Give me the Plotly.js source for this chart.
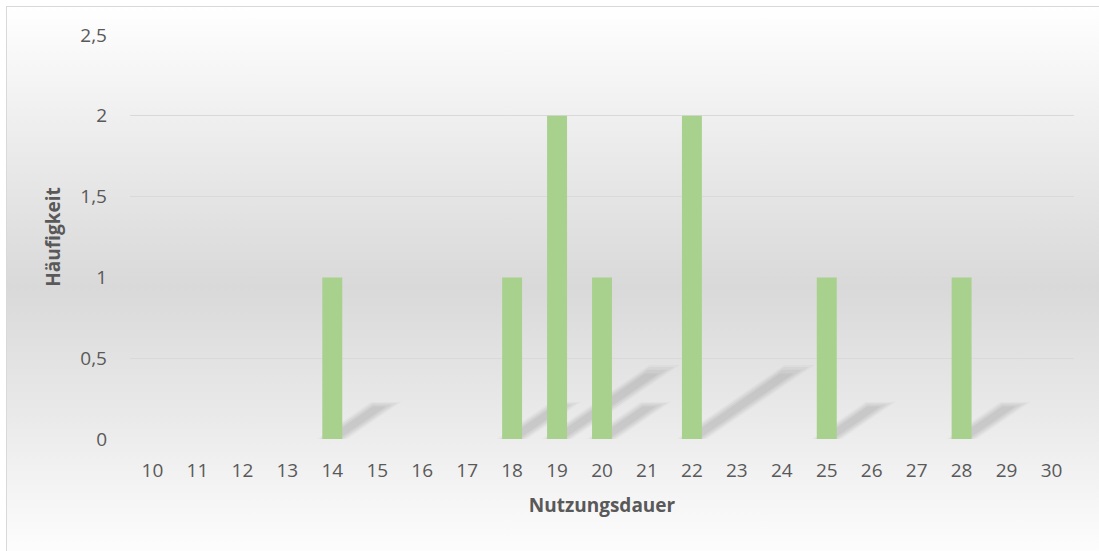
<!DOCTYPE html>
<html>
<head>
<meta charset="utf-8">
<script src="https://cdn.plot.ly/plotly-3.0.1.min.js"></script>
<style>
  html, body { margin: 0; padding: 0; background: #ffffff; }
  #wrap { position: relative; width: 1099px; height: 551px; overflow: hidden; background: #ffffff; }
  #bg { position: absolute; left: 6px; top: 6px; width: 1100px; height: 560px;
        border-top: 1px solid #d9d9d9; border-left: 1px solid #d9d9d9;
        background: linear-gradient(to bottom, #ffffff 0%, #ebebeb 25%, #d9d9d9 50%, #ebebeb 75%, #ffffff 100%); }
  #chart { position: absolute; left: 0; top: 0; width: 1099px; height: 551px; }
</style>
</head>
<body>
<div id="wrap">
  <div id="bg"></div>
  <div id="chart"></div>
</div>
<script>
// Data
const nutzungsdauer = [10, 11, 12, 13, 14, 15, 16, 17, 18, 19, 20, 21, 22, 23, 24, 25, 26, 27, 28, 29, 30];
const haeufigkeit   = [0, 0, 0, 0, 1, 0, 0, 0, 1, 2, 1, 0, 2, 0, 0, 1, 0, 0, 1, 0, 0];
const tickLabels    = nutzungsdauer.map(String);
const yTickVals     = [0, 0.5, 1, 1.5, 2, 2.5];
const yTickText     = ['0', '0,5', '1', '1,5', '2', '2,5'];

const barColor = '#a9d18e';
const halfW = 0.222;

// Soft diagonal shadows derived from bar values
const shapes = [];
const blurLayers = [
  {grow: 0.12, len: 1.00, alpha: 0.025},
  {grow: 0.06, len: 0.97, alpha: 0.035},
  {grow: 0.00, len: 0.93, alpha: 0.04},
  {grow: -0.07, len: 0.88, alpha: 0.045}
];
nutzungsdauer.forEach((c, i) => {
  const v = haeufigkeit[i];
  if (!v) return;
  blurLayers.forEach(b => {
    const dx = 1.2 * v * b.len, dy = 0.23 * v * b.len;
    const xl = c - halfW - b.grow, xr = c + halfW + b.grow;
    shapes.push({
      type: 'path', xref: 'x', yref: 'y', layer: 'between',
      path: `M ${xl} 0 L ${xr} 0 L ${xr + dx} ${dy} L ${xl + dx} ${dy} Z`,
      fillcolor: `rgba(0,0,0,${b.alpha})`, line: {width: 0}
    });
  });
});

const trace = {
  type: 'bar',
  x: nutzungsdauer,
  y: haeufigkeit,
  marker: {color: barColor, line: {width: 0}},
  width: 2 * halfW,
  hoverinfo: 'x+y'
};

const font = {family: '"Open Sans", "Noto Sans", sans-serif', color: '#595959'};

const layout = {
  width: 1099, height: 551,
  margin: {l: 130, r: 25, t: 35, b: 112},
  paper_bgcolor: 'rgba(0,0,0,0)',
  plot_bgcolor: 'rgba(0,0,0,0)',
  showlegend: false,
  font: font,
  xaxis: {
    range: [9.5, 30.5],
    tickmode: 'array', tickvals: nutzungsdauer, ticktext: tickLabels,
    showgrid: false, zeroline: false, showline: false, ticks: '',
    ticklabelstandoff: 18,
    tickfont: {size: 19, color: '#595959', family: font.family},
    title: {text: '<b>Nutzungsdauer</b>', font: {size: 19, color: '#595959', family: font.family}, standoff: 16}
  },
  yaxis: {
    range: [0, 2.5],
    tickmode: 'array', tickvals: yTickVals, ticktext: yTickText,
    showgrid: true, gridcolor: '#d9d9d9', gridwidth: 1.3,
    zeroline: false, showline: false, ticks: '',
    ticklabelstandoff: 22,
    tickfont: {size: 19, color: '#595959', family: font.family},
    title: {text: '<b>Häufigkeit</b>', font: {size: 19, color: '#595959', family: font.family}, standoff: 14}
  },
  shapes: shapes
};

Plotly.newPlot('chart', [trace], layout, {displayModeBar: false, staticPlot: true});
</script>
</body>
</html>
